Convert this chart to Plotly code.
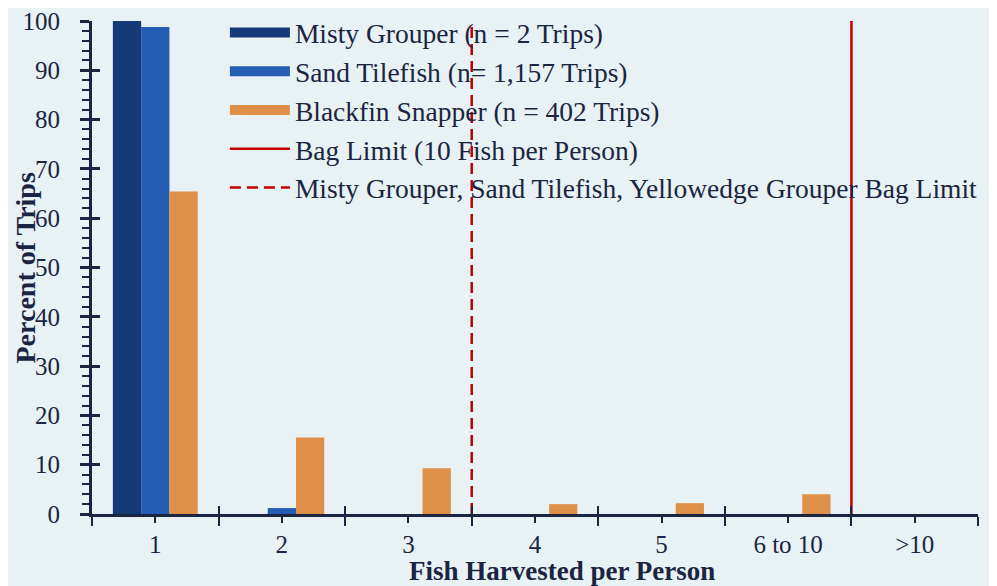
import plotly.graph_objects as go

categories = ["1", "2", "3", "4", "5", "6 to 10", ">10"]
x_pos = [1, 2, 3, 4, 5, 6, 7]
misty_grouper = [100, 0, 0, 0, 0, 0, 0]
sand_tilefish = [98.8, 1.2, 0, 0, 0, 0, 0]
blackfin_snapper = [65.4, 15.5, 9.3, 2.0, 2.2, 4.0, 0]
bag_limit_x = 6.5          # boundary between "6 to 10" and ">10"
species_bag_limit_x = 3.5  # boundary between "3" and "4"
y_limits = [0, 100]

names = ["Misty Grouper (n = 2 Trips)", "Sand Tilefish (n= 1,157 Trips)",
         "Blackfin Snapper (n = 402 Trips)", "Bag Limit (10 Fish per Person)",
         "Misty Grouper, Sand Tilefish, Yellowedge Grouper Bag Limit"]
bar_colors = ["#163a78", "#255cb4", "#de9049"]

BG = "#e8f1f4"
TXT = "#1b2541"
RED = "#c00000"
FONT = "Liberation Serif"

fig = go.Figure()
for i, vals in enumerate([misty_grouper, sand_tilefish, blackfin_snapper]):
    fig.add_trace(go.Bar(x=x_pos, y=vals, name=names[i], marker_color=bar_colors[i],
                         marker_line_width=0, showlegend=False))
# legend keys for the bars (wide rectangles as in the reference)
for i in range(3):
    fig.add_trace(go.Scatter(x=[None], y=[None], mode="lines", name=names[i],
                             line=dict(color=bar_colors[i], width=13),
                             legendgroup=f"g{i}", hoverinfo="skip"))

fig.add_trace(go.Scatter(x=[bag_limit_x, bag_limit_x], y=y_limits, mode="lines",
                         line=dict(color=RED, width=2.5), name=names[3],
                         legendgroup="g3", xaxis="x2", yaxis="y2"))
fig.add_trace(go.Scatter(x=[species_bag_limit_x, species_bag_limit_x], y=y_limits,
                         mode="lines", line=dict(color=RED, width=2.5, dash="11px,6px"),
                         name=names[4], legendgroup="g4", xaxis="x2", yaxis="y2"))

bounds = [0.5, 1.5, 2.5, 3.5, 4.5, 5.5, 6.5, 7.5]

fig.update_layout(
    width=989, height=578,
    paper_bgcolor=BG, plot_bgcolor=BG,
    margin=dict(l=84, r=19, t=13, b=72, autoexpand=False),
    barmode="group", bargap=0.33, bargroupgap=0,
    font=dict(family=FONT, color=TXT, size=25),
    showlegend=True,
    legend=dict(x=0.15, y=1.026, xanchor="left", yanchor="top",
                bgcolor="rgba(0,0,0,0)", font=dict(size=27.5, color=TXT, family=FONT),
                traceorder="grouped", tracegroupgap=0, itemwidth=60),
    xaxis=dict(range=[0.5, 7.5], tickvals=x_pos, ticktext=categories, automargin=False,
               ticks="outside", ticklen=6, tickwidth=2, tickcolor=TXT,
               showline=True, linecolor=TXT, linewidth=3, showgrid=False,
               zeroline=False, tickfont=dict(size=25, color=TXT, family=FONT),
               minor=dict(tickvals=bounds, ticks="outside", ticklen=9,
                          tickwidth=2, tickcolor=TXT)),
    xaxis2=dict(overlaying="x", matches="x", anchor="y", side="bottom",
                tickvals=bounds, automargin=False,
                ticks="inside", ticklen=8, tickwidth=2, tickcolor=TXT,
                showticklabels=False, showline=False, showgrid=False, zeroline=False),
    yaxis=dict(range=[0, 100], tickvals=list(range(0, 101, 10)), automargin=False,
               ticks="outside", ticklen=9, tickwidth=2.5, tickcolor=TXT,
               showline=True, linecolor=TXT, linewidth=3, showgrid=False,
               zeroline=False, tickfont=dict(size=25, color=TXT, family=FONT),
               ticklabelstandoff=15, ticklabeloverflow="allow",
               minor=dict(dtick=2, ticks="outside", ticklen=7, tickwidth=2, tickcolor=TXT)),
    yaxis2=dict(overlaying="y", matches="y", anchor="x", side="left", automargin=False,
                tickvals=list(range(0, 101, 10)), ticks="inside", ticklen=8,
                tickwidth=2.5, tickcolor=TXT, showticklabels=False,
                showline=False, showgrid=False, zeroline=False),
    annotations=[
        dict(text="<b>Fish Harvested per Person</b>", xref="paper", yref="paper",
             x=0.530, y=-0.115, xanchor="center", yanchor="middle",
             showarrow=False, font=dict(size=27, color=TXT, family=FONT)),
        dict(text="<b>Percent of Trips</b>", xref="paper", yref="paper",
             x=-0.0745, y=0.5, xanchor="center", yanchor="middle", textangle=-90,
             showarrow=False, font=dict(size=28, color=TXT, family=FONT)),
    ],
)

fig.write_html("out.html")
